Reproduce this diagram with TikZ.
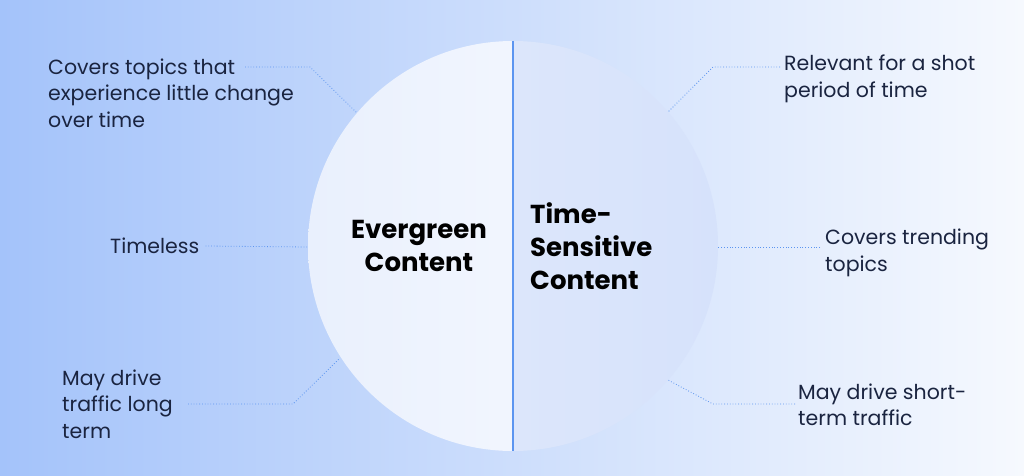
\documentclass[tikz,border=0pt]{standalone}
\usepackage{fontspec}
\setmainfont{Poppins}
\begin{document}
\begin{tikzpicture}[x=1pt,y=1pt,
  lbl/.style={font=\fontsize{20.5}{26.5}\selectfont, text=txt, align=left, anchor=west, inner sep=0pt},
  ttl/.style={font=\fontsize{26}{33}\selectfont\bfseries, text=black, inner sep=0pt},
  conn/.style={draw=lineblue, line width=0.8pt, dotted}]
\definecolor{txt}{HTML}{1A2440}
\definecolor{lineblue}{HTML}{5C95F0}
\shade[left color={rgb,255:red,164;green,195;blue,250}, right color={rgb,255:red,246;green,249;blue,254}] (0,0) rectangle (1024,475);
\useasboundingbox (0,0) rectangle (1024,475);
\coordinate (c) at (513,229);
\begin{scope}
\clip (308,0) rectangle (513,475);
\shade[left color={rgb,255:red,233;green,240;blue,253}, right color={rgb,255:red,250;green,251;blue,255}] (c) circle (205);
\end{scope}
\begin{scope}
\clip (513,0) rectangle (720,475);
\shade[left color={rgb,255:red,226;green,234;blue,252}, right color={rgb,255:red,214;green,226;blue,251}] (c) circle (205);
\end{scope}
\coordinate (lt) at (513,434);
\coordinate (lb) at (513,24);
\draw[draw=lineblue, line width=1.6pt] (lt) -- (lb);
\node[ttl, align=center] (ev) at (419,229) {Evergreen\\Content};
\node[ttl, align=left, anchor=west] (ts) at (530,229) {Time-\\Sensitive\\Content};
\node[lbl] (a) at (48,382) {Covers topics that\\experience little change\\over time};
\node[lbl] (b) at (110,229) {Timeless};
\node[lbl] (d) at (62,71) {May drive\\traffic long\\term};
\node[lbl] (e) at (784,396) {Relevant for a shot\\period of time};
\node[lbl] (f) at (825,222) {Covers trending\\topics};
\node[lbl] (g) at (798,70) {May drive short-\\term traffic};
\coordinate (a1) at (310,408); \coordinate (a2) at (356,363);
\coordinate (d1) at (293,71); \coordinate (d2) at (340,117);
\coordinate (e1) at (713,408); \coordinate (e2) at (668,363);
\coordinate (g1) at (713,71); \coordinate (g2) at (668,95);
\coordinate (b2) at (307,228); \coordinate (f2) at (718,228);
\draw[conn] (245,408) -- (a1) -- (a2);
\draw[conn] (b.east) ++(6,0) -- (b2);
\draw[conn] (188,71) -- (d1) -- (d2);
\draw[conn] (780,408) -- (e1) -- (e2);
\draw[conn] (f.west |- f2) ++(-5,0) -- (f2);
\draw[conn] (795,71) -- (g1) -- (g2);
\end{tikzpicture}
\end{document}
